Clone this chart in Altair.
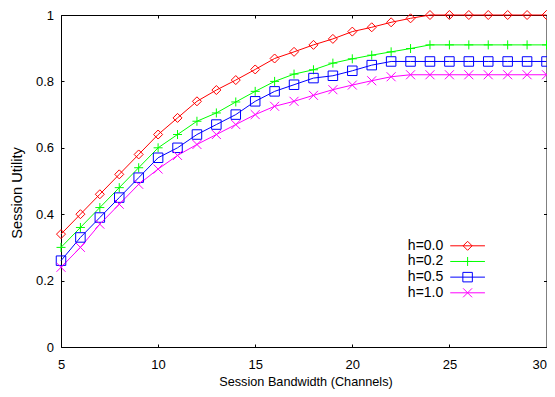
import altair as alt
import pandas as pd

bandwidth = list(range(5, 31))
series_names = ["h=0.0", "h=0.2", "h=0.5", "h=1.0"]
u_h00 = [0.34, 0.40, 0.46, 0.52, 0.58, 0.64, 0.69, 0.74, 0.774, 0.804, 0.836, 0.869, 0.889, 0.910, 0.928,
         0.950, 0.963, 0.978, 0.990, 1.0, 1.0, 1.0, 1.0, 1.0, 1.0, 1.0]
u_h02 = [0.30, 0.36, 0.42, 0.48, 0.54, 0.60, 0.64, 0.68, 0.705, 0.738, 0.77, 0.80, 0.822, 0.835, 0.855,
         0.868, 0.879, 0.889, 0.899, 0.91, 0.91, 0.91, 0.91, 0.91, 0.91, 0.91]
u_h05 = [0.26, 0.33, 0.39, 0.45, 0.51, 0.57, 0.60, 0.64, 0.67, 0.70, 0.74, 0.77, 0.79, 0.81, 0.817,
         0.832, 0.849, 0.86, 0.86, 0.86, 0.86, 0.86, 0.86, 0.86, 0.86, 0.86]
u_h10 = [0.24, 0.30, 0.37, 0.43, 0.49, 0.536, 0.577, 0.61, 0.64, 0.67, 0.70, 0.725, 0.74, 0.758, 0.775,
         0.789, 0.802, 0.814, 0.82, 0.82, 0.82, 0.82, 0.82, 0.82, 0.82, 0.82]
colors = ["#ff0000", "#00ff00", "#0000ff", "#ff00ff"]
x_ticks = [5, 10, 15, 20, 25, 30]
y_ticks = [0, 0.2, 0.4, 0.6, 0.8, 1.0]

values = [u_h00, u_h02, u_h05, u_h10]
rows = []
for name, vals in zip(series_names, values):
    for b, v in zip(bandwidth, vals):
        rows.append({"bw": b, "util": v, "series": name, "series_line": name})
df = pd.DataFrame(rows)

# marker shapes (unit path, scaled by sqrt(size)/2)
marker_paths = [
    "M0,-0.9L0.9,0L0,0.9L-0.9,0Z",
    "M-0.9,0H0.9M0,-0.9V0.9",
    "M-0.95,-0.95H0.95V0.95H-0.95Z",
    "M-0.9,-0.9L0.9,0.9M-0.9,0.9L0.9,-0.9",
]
legend_line = "M-3.47,0H3.47"

FONT = "Liberation Sans"
LEG_X = 337.65
LEG_Y = 223.8
SYM_OFF = 61.95

common_leg = dict(
    title=None, orient="none", legendX=LEG_X, legendY=LEG_Y,
    labelAlign="right", labelOffset={"expr": "-31.3"}, labelFontSize=14, labelFont=FONT,
    symbolSize=100, symbolStrokeWidth=1, rowPadding=1.67, symbolOffset=SYM_OFF,
    padding=0, labelLimit=200,
)
legend_lines = alt.Legend(symbolType=legend_line, labelColor="#000000", **common_leg)
legend_marks = alt.Legend(labelOpacity=0, symbolFillColor="transparent", **common_leg)

xscale = alt.Scale(domain=[5, 30], nice=False, zero=False)
yscale = alt.Scale(domain=[0, 1], nice=False, zero=False)

x_bottom = alt.Axis(orient="bottom", values=x_ticks, offset=-3, tickSize=3, domain=False, grid=False,
                    labelFlush=False, labelPadding=11, labelFontSize=13, labelFont=FONT,
                    labelAlign={"condition": {"test": "datum.value >= 30", "value": "right"},
                                "value": "center"},
                    labelColor="#000000", tickColor="#000000",
                    title="Session Bandwidth (Channels)", titleFont=FONT, titleFontSize=12.7,
                    titleFontWeight="normal", titleColor="#000000", titleX=244.5, titleY=37,
                    titleBaseline="middle", titleAlign="center")
y_left = alt.Axis(orient="left", values=y_ticks, offset=-3, tickSize=3, domain=False, grid=False,
                  labelFlush=False, labelPadding=7.5, labelFontSize=13, labelFont=FONT,
                  labelColor="#000000", tickColor="#000000", format="g",
                  title="Session Utility", titleFont=FONT, titleFontSize=14.6, titleFontWeight="normal",
                  titleColor="#000000", titleX=-47, titleY=177.5, titleAngle=270,
                  titleBaseline="middle", titleAlign="center")
x_top = alt.Axis(orient="top", values=x_ticks, offset=-3, tickSize=3, domain=False, grid=False,
                 labels=False, title=None, tickColor="#000000")
y_right = alt.Axis(orient="right", values=y_ticks, offset=-3, tickSize=3, domain=False, grid=False,
                   labels=False, title=None, tickColor="#000000")

lines = alt.Chart(df).mark_line(strokeWidth=1).encode(
    x=alt.X("bw:Q", scale=xscale, axis=x_bottom),
    y=alt.Y("util:Q", scale=yscale, axis=y_left),
    stroke=alt.Stroke("series_line:N", scale=alt.Scale(range=colors), legend=legend_lines),
    detail="series_line:N",
)
points = alt.Chart(df).mark_point(filled=False, strokeWidth=1, size=100, opacity=1).encode(
    x=alt.X("bw:Q", scale=xscale, axis=x_top),
    y=alt.Y("util:Q", scale=yscale, axis=y_right),
    color=alt.Color("series:N", scale=alt.Scale(domain=series_names, range=colors), legend=legend_marks),
    shape=alt.Shape("series:N", scale=alt.Scale(domain=series_names, range=marker_paths),
                    legend=legend_marks),
)

chart = alt.layer(lines, points).resolve_axis(x="independent", y="independent").properties(
    width=485.5, height=332,
    autosize=alt.AutoSizeParams(type="none"),
    padding={"left": 53, "top": 7, "right": 0.5, "bottom": 42},
    background="#ffffff",
).configure_view(stroke="#000000", strokeWidth=1)

chart.save("out.html", embed_options={"renderer": "svg", "actions": False})
